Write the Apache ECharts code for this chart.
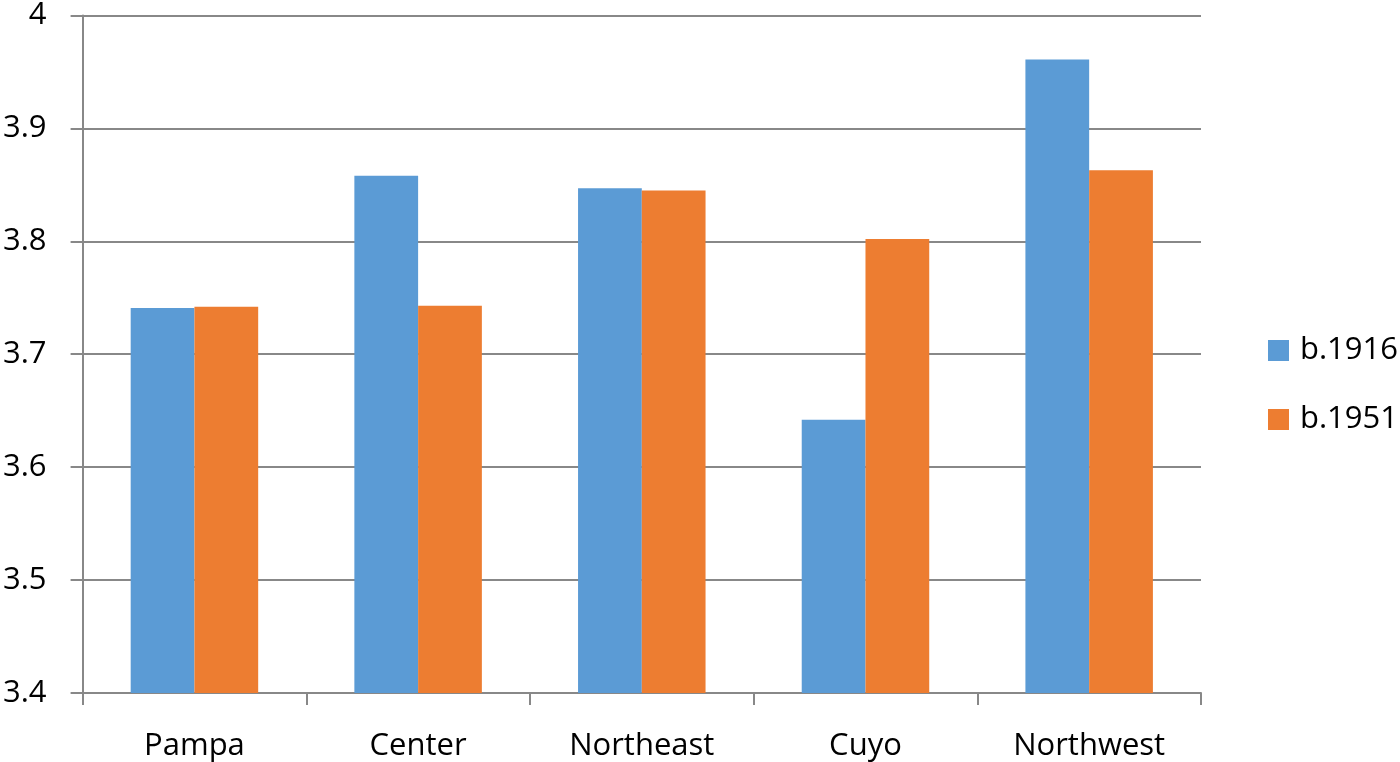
<!DOCTYPE html>
<html><head><meta charset="utf-8">
<script src="https://cdn.jsdelivr.net/npm/echarts@6/dist/echarts.min.js"></script>
<style>html,body{margin:0;padding:0;background:#fff}#c{width:1400px;height:762px}</style>
</head><body><div id="c"></div>
<script>
const categories = ["Pampa","Center","Northeast","Cuyo","Northwest"];
const b1916 = [3.741, 3.858, 3.847, 3.642, 3.961];
const b1951 = [3.742, 3.743, 3.845, 3.802, 3.863];
const seriesNames = ["b.1916","b.1951"];

const chart = echarts.init(document.getElementById('c'), null, {renderer:'canvas'});
const font = "'Open Sans', 'Noto Sans', sans-serif";
chart.setOption({
  animation:false,
  backgroundColor:'#ffffff',
  grid:{left:82, right:199, top:14, bottom:68, containLabel:false},
  legend:{
    orient:'vertical', left:1263, top:330, itemWidth:21, itemHeight:21, itemGap:38,
    icon:'rect',
    textStyle:{fontSize:31, fontFamily:font, color:'#000', padding:[0,0,0,6]},
    data:seriesNames
  },
  xAxis:{
    type:'category', data:categories,
    axisLine:{lineStyle:{color:'#888', width:2}},
    axisTick:{show:true, length:12, lineStyle:{color:'#888', width:2}},
    axisLabel:{fontSize:31, fontFamily:font, color:'#000', margin:38}
  },
  yAxis:{
    type:'value', min:3.4, max:4, interval:0.1,
    axisLine:{show:true, lineStyle:{color:'#888', width:2}},
    axisTick:{show:true, length:12, lineStyle:{color:'#888', width:2}},
    splitLine:{lineStyle:{color:'#888', width:2}},
    axisLabel:{fontSize:31, fontFamily:font, color:'#000', margin:36,
      formatter:function(v){return String(Math.round(v*10)/10);}}
  },
  series:[
    {name:seriesNames[0], type:'bar', data:b1916, barGap:'0%', barCategoryGap:'43%',
     itemStyle:{color:'#5B9BD5'}},
    {name:seriesNames[1], type:'bar', data:b1951, barGap:'0%', barCategoryGap:'43%',
     itemStyle:{color:'#ED7D31'}}
  ]
});
</script></body></html>
